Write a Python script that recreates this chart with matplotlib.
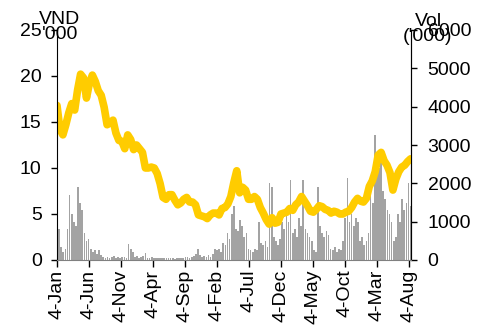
import matplotlib
matplotlib.use("Agg")
import matplotlib.pyplot as plt
import numpy as np
import datetime as dt

plt.rcParams['font.family'] = ['Liberation Sans', 'DejaVu Sans']

start_date = dt.date(2010, 1, 4)
price_step_days = 14
vol_step_days = 10

# Price (VND '000), sampled every two weeks
price = [16.8, 14.2, 13.6, 14.7, 16.0, 17.0, 16.3, 18.5, 20.2, 19.8,
         17.6, 19.2, 20.1, 19.4, 18.4, 17.9, 16.6, 14.7, 14.9, 15.2,
         13.8, 13.0, 12.9, 12.1, 13.6, 13.1, 12.0, 12.5, 12.1, 11.7,
         10.0, 10.0, 10.1, 10.0, 9.4, 8.3, 6.8, 6.6, 7.1, 7.1,
         6.5, 6.0, 6.2, 6.6, 6.8, 6.3, 6.3, 6.0, 4.9, 4.8,
         4.7, 4.5, 4.9, 5.1, 5.1, 4.9, 5.6, 5.7, 6.1, 6.9,
         8.4, 9.7, 7.3, 7.9, 7.6, 6.6, 6.6, 6.9, 6.6, 5.7,
         5.1, 4.4, 3.9, 4.6, 4.0, 4.1, 5.0, 5.1, 5.2, 5.6,
         5.4, 6.0, 6.3, 6.9, 6.4, 5.9, 5.3, 5.2, 5.5, 5.9,
         5.8, 5.5, 5.4, 5.1, 5.3, 5.2, 5.0, 5.0, 5.2, 5.3,
         5.7, 6.3, 6.7, 6.4, 6.3, 6.7, 8.0, 8.6, 9.6, 11.4,
         11.7, 10.8, 10.3, 9.5, 7.6, 8.8, 9.6, 10.1, 10.3, 10.7,
         11.0]

# Volume ('000), sampled every ten days
volume = [1100, 800, 350, 200, 300, 800, 1700, 1200, 1000, 900,
          1900, 1500, 1300, 700, 500, 550, 300, 200, 250, 150,
          250, 120, 80, 60, 90, 50, 70, 100, 60, 80,
          50, 70, 90, 60, 430, 300, 200, 80, 100, 60,
          80, 100, 180, 60, 50, 70, 40, 60, 50, 40,
          60, 50, 40, 60, 40, 50, 30, 40, 50, 40,
          60, 70, 90, 60, 80, 100, 150, 300, 120, 90,
          100, 80, 120, 90, 150, 300, 250, 300, 200, 450,
          400, 700, 550, 1200, 1400, 800, 750, 1040, 900, 600,
          700, 300, 250, 200, 300, 250, 1000, 450, 400, 500,
          350, 2000, 1900, 600, 500, 400, 550, 1000, 800, 1200,
          1000, 2100, 700, 800, 600, 1100, 900, 2100, 800, 700,
          600, 500, 250, 200, 1900, 900, 700, 600, 750, 650,
          300, 250, 350, 200, 300, 250, 500, 1100, 2150, 1000,
          1200, 900, 1100, 1000, 500, 600, 400, 500, 700, 1800,
          1500, 3250, 2600, 2400, 2700, 1800, 1600, 1300, 1200, 1000,
          500, 600, 1200, 1000, 1600, 1300, 1500, 2000, 1400]

tick_dates = [dt.date(2010, 1, 4), dt.date(2010, 6, 4), dt.date(2010, 11, 4),
              dt.date(2011, 4, 4), dt.date(2011, 9, 4), dt.date(2012, 2, 4),
              dt.date(2012, 7, 4), dt.date(2012, 12, 4), dt.date(2013, 5, 4),
              dt.date(2013, 10, 4), dt.date(2014, 3, 4), dt.date(2014, 8, 4)]
tick_labels = ['4-Jan', '4-Jun', '4-Nov', '4-Apr', '4-Sep', '4-Feb',
               '4-Jul', '4-Dec', '4-May', '4-Oct', '4-Mar', '4-Aug']

price_dates = [start_date + dt.timedelta(days=price_step_days * i) for i in range(len(price))]
vol_dates = [start_date + dt.timedelta(days=vol_step_days * i) for i in range(len(volume))]

FS = 14

fig = plt.figure(figsize=(4.92, 3.31), dpi=100)
ax = fig.add_axes([57 / 492, 1 - 260 / 331, 354 / 492, 230 / 331])
ax2 = ax.twinx()

ax2.bar(vol_dates, volume, width=8, color='#a3a3a3', linewidth=0)
ax.plot(price_dates, price, color='#FFCC00', lw=5.5, solid_capstyle='round', solid_joinstyle='round')

ax.set_zorder(ax2.get_zorder() + 1)
ax.patch.set_visible(False)

ax.set_xlim(start_date, start_date + dt.timedelta(days=1682))
ax.set_ylim(0, 25)
ax.set_yticks([0, 5, 10, 15, 20, 25])
ax2.set_ylim(0, 6000)
ax2.set_yticks(range(0, 6001, 1000))
ax.set_xticks(tick_dates)
ax.set_xticklabels(tick_labels, rotation=90)

for a in (ax, ax2):
    a.spines['top'].set_visible(False)
    a.tick_params(labelsize=FS, length=4, width=1, direction='out', colors='black')
ax.spines['left'].set_color('black')
ax.spines['bottom'].set_color('#808080')
ax2.spines['right'].set_color('#404040')
ax2.spines['left'].set_visible(False)
ax2.spines['bottom'].set_visible(False)
ax.tick_params(axis='x', length=5, pad=2)
ax.tick_params(axis='y', pad=7)
ax2.tick_params(axis='y', pad=8)

fig.text(60 / 492, 1 - 27 / 331, "VND\n'000", ha='center', va='center', fontsize=FS, linespacing=0.9)
fig.text(428 / 492, 1 - 29 / 331, "Vol\n('000)", ha='center', va='center', fontsize=FS, linespacing=0.9)

fig.savefig('out.png', dpi=100)
